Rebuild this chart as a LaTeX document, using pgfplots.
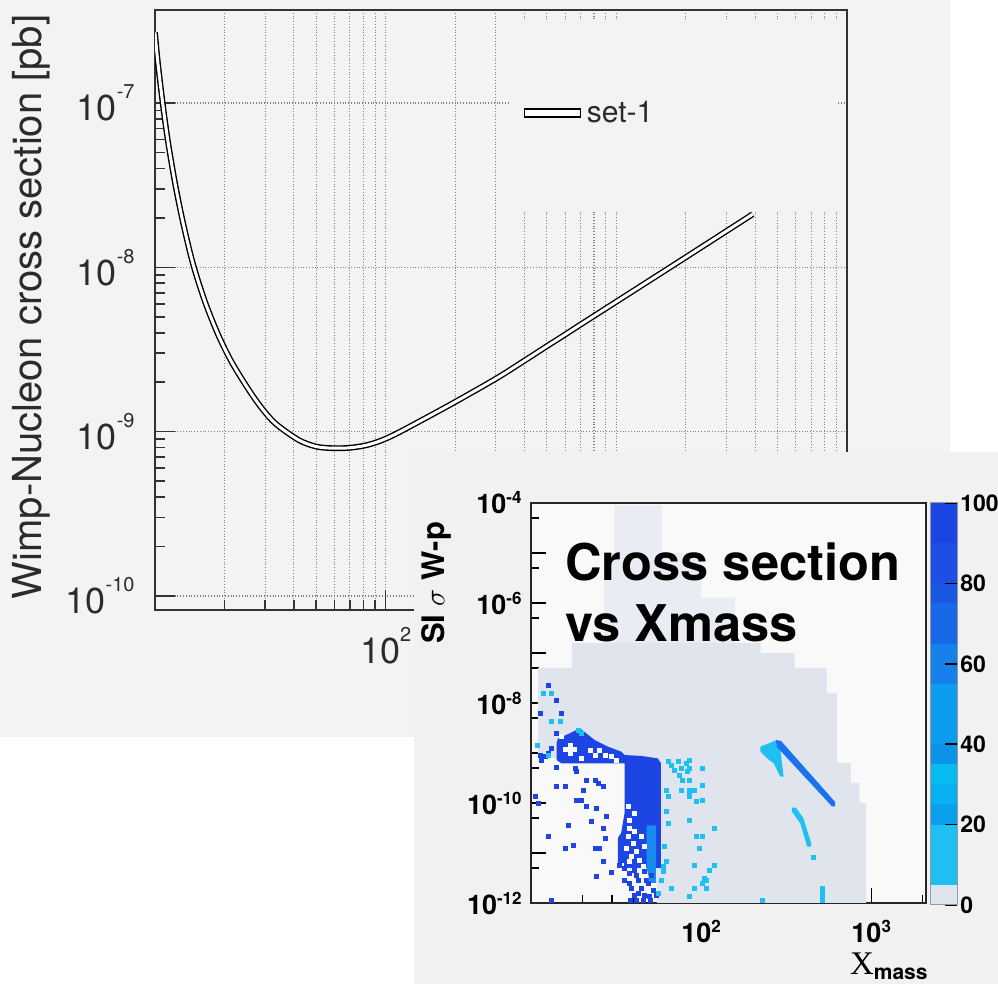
\documentclass[border=0pt]{standalone}
\usepackage{pgfplots}
\usepackage{pgfplotstable}
\pgfplotsset{compat=1.18}
\usepackage{fontspec}
\setmainfont{TeX Gyre Heros}
\newfontfamily\serifx{Liberation Serif}
\definecolor{bgA}{HTML}{F3F3F3}
\definecolor{bgB}{HTML}{F1F1F1}
\definecolor{inbg}{HTML}{F9F9F9}
\definecolor{cgrey}{HTML}{E0E4EC}
\definecolor{cgreyL}{HTML}{E9ECF2}
\definecolor{cdark}{HTML}{1C45E4}
\definecolor{cmid}{HTML}{1A8CF0}
\definecolor{cline}{HTML}{1A72EE}
\definecolor{ccyan}{HTML}{1EC0F2}
\definecolor{txtgrey}{HTML}{2B2B2B}
\newcommand\upl[1]{{\fontsize{18}{18}\selectfont 10\raisebox{11pt}{\fontsize{10}{10}\selectfont #1}}}
\newcommand\inl[1]{{\bfseries\fontsize{13.5}{13.5}\selectfont 10\raisebox{5pt}{\fontsize{8.5}{8.5}\selectfont #1}}}

\pgfplotstableread{
x y
10 2.69e-7
10.3 1.74e-7
10.84 9.55e-8
11.4 5.75e-8
12.22 3.24e-8
13.24 1.86e-8
14.62 1.047e-8
16.48 6.17e-9
18.79 3.89e-9
21.38 2.69e-9
25.1 1.86e-9
28.8 1.41e-9
33.3 1.12e-9
41.9 8.91e-10
49.7 8.13e-10
58.2 7.94e-10
69.2 7.97e-10
81.8 8.25e-10
95 8.8e-10
114 9.9e-10
188 1.445e-9
301 2.104e-9
402 2.72e-9
501 3.32e-9
600 3.90e-9
697 4.47e-9
811 5.12e-9
1000 6.18e-9
1436 8.55e-9
2014 1.159e-8
3006 1.663e-8
3899 2.104e-8
}\curve

\begin{document}
\begin{tikzpicture}
\useasboundingbox (0pt,0pt) rectangle (499pt,492pt);
\fill[white] (0pt,0pt) rectangle (499pt,492pt);
\fill[bgA] (0pt,123.5pt) rectangle (475pt,492pt);

% ---------------- upper plot ----------------
\begin{axis}[
  at={(77.5pt,187pt)}, anchor=south west, scale only axis, width=346pt, height=300pt,
  xmode=log, ymode=log, xmin=10, xmax=10000, ymin=8.22e-11, ymax=3.68e-7,
  axis line style={black!80, line width=1.2pt},
  tick align=inside, tick pos=left,
  major tick length=10pt, minor tick length=5pt,
  tick style={black!80, line width=0.8pt},
  xtick={10,100,1000,10000}, xticklabels={{},{\upl{2}},{},{}},
  ytick={1e-10,1e-9,1e-8,1e-7}, yticklabels={{\upl{-10}},{\upl{-9}},{\upl{-8}},{\upl{-7}}},
  xticklabel style={inner sep=0pt, yshift=-8.5pt, text=txtgrey},
  yticklabel style={inner sep=0pt, xshift=-10pt, text=txtgrey},
  xmajorgrids, xminorgrids, ymajorgrids,
  grid style={black!50, densely dotted, line width=0.55pt},
  ylabel={Wimp-Nucleon cross section [pb]},
  ylabel style={at={(rel axis cs:-0.179,0.505)}, anchor=center, font=\fontsize{20}{21}\selectfont, text=txtgrey},
  legend style={at={(0.532,0.828)}, anchor=west, draw=none, fill=none, inner sep=0pt,
    font=\fontsize{15}{15}\selectfont, text=txtgrey, nodes={inner sep=2.8pt}},
]
\fill[bgA] (rel axis cs:0.513,0.667) rectangle (rel axis cs:0.987,0.983);
\addplot[black, line width=2.9pt, smooth, forget plot] table {\curve};
\addplot[white, line width=1.5pt, smooth, forget plot] table {\curve};
\addlegendimage{legend image code/.code={\draw[black,line width=0.9pt,fill=white] (0pt,-2pt) rectangle (28pt,2pt);}}
\addlegendentry{set-1}
\end{axis}

% ---------------- lower panel ----------------
\fill[bgB] (207pt,0pt) rectangle (499pt,266pt);

\begin{axis}[
  at={(265.5pt,40.5pt)}, anchor=south west, scale only axis, width=197.5pt, height=200pt,
  xmin=1, xmax=3.322, ymin=-12, ymax=-4,
  axis background/.style={fill=inbg},
  axis line style={black!85, line width=0.8pt},
  tick align=inside, tick pos=left,
  major tick length=7.5pt, minor tick length=4pt,
  tick style={black, line width=0.7pt},
  xtick={1,2,3}, xticklabels={{},{\inl{2}},{\inl{3}}},
  minor xtick={1.301,1.477,1.602,1.699,1.778,1.845,1.903,1.954,2.301,2.477,2.602,2.699,2.778,2.845,2.903,2.954,3.301},
  ytick={-12,-11,...,-4},
  yticklabels={{\inl{-12}},{},{\inl{-10}},{},{\inl{-8}},{},{\inl{-6}},{},{\inl{-4}}},
  minor ytick={-11.301,-10.301,-9.301,-8.301,-7.301,-6.301,-5.301,-4.301},
  xticklabel style={inner sep=0pt, yshift=-8.5pt},
  yticklabel style={inner sep=0pt, xshift=-4.5pt},
  xlabel={{\serifx\fontsize{16.5}{16.5}\selectfont X}{\bfseries\fontsize{10.5}{10.5}\selectfont\raisebox{-2.5pt}{mass}}},
  xlabel style={at={(rel axis cs:1,0)}, anchor=base east, yshift=-36pt, xshift=1pt, inner sep=0pt},
  ylabel={\bfseries SI $\sigma$ W-p},
  ylabel style={at={(rel axis cs:-0.24,0.80)}, anchor=center, font=\fontsize{15.5}{16}\selectfont},
]
% grey (content 0-5) region
\addplot[fill=cgreyL, draw=none] coordinates {(1.49,-4.05) (1.77,-4.05) (1.77,-5.0) (2.0,-5.0) (2.0,-5.9) (2.2,-5.9) (2.2,-6.8) (1.43,-6.8) (1.43,-5.0) (1.49,-5.0)} -- cycle;
\addplot[fill=cgrey, draw=none] coordinates {(1.24,-6.8) (2.35,-6.8) (2.35,-7.0) (2.55,-7.0) (2.55,-7.3) (2.74,-7.3) (2.74,-7.8) (2.8,-7.8) (2.8,-9.2) (2.88,-9.2) (2.88,-9.6) (2.93,-9.6) (2.93,-10.0) (2.97,-10.0) (2.97,-12) (1.74,-12) (1.74,-9.1) (1.04,-9.1) (1.04,-7.3) (1.24,-7.3)} -- cycle;
% dense blue band and column
\addplot[fill=cdark, draw=none] coordinates {(1.150,-8.80) (1.160,-8.707) (1.228,-8.607) (1.286,-8.507) (1.325,-8.607) (1.374,-8.74) (1.452,-8.873) (1.530,-8.973) (1.550,-9.04) (1.65,-9.06) (1.745,-9.107) (1.764,-9.207) (1.764,-11.3) (1.51,-11.3) (1.51,-10.7) (1.53,-10.6) (1.55,-10.2) (1.55,-9.207) (1.179,-9.207) (1.150,-9.14)} -- cycle;
\addplot[fill=cmid, draw=none] coordinates {(1.68,-10.45) (1.735,-10.45) (1.735,-11.6) (1.70,-11.6) (1.68,-11.3)} -- cycle;
% stripes at high mass
\addplot[fill=ccyan, draw=none] coordinates {(2.349,-8.873) (2.446,-8.74) (2.466,-8.94) (2.485,-9.473) (2.466,-9.473) (2.427,-9.207) (2.388,-9.107) (2.349,-8.973)} -- cycle;
\addplot[fill=cline, draw=none] coordinates {(2.440,-8.74) (2.470,-8.760) (2.788,-9.980) (2.788,-10.07) (2.770,-10.07) (2.446,-8.880)} -- cycle;
\addplot[fill=ccyan, draw=none] coordinates {(2.534,-10.093) (2.557,-10.093) (2.602,-10.307) (2.647,-10.807) (2.647,-10.873) (2.624,-10.873) (2.583,-10.407) (2.534,-10.173)} -- cycle;
% holes (empty bins)
\addplot[only marks, mark=square*, mark size=1pt, color=inbg, mark options={line width=0.1pt}] coordinates {
(1.228,-8.84) (1.203,-8.93) (1.228,-8.93) (1.253,-8.93) (1.228,-9.01) (1.345,-8.94) (1.374,-9.04) (1.403,-8.94) (1.433,-9.04) (1.472,-9.06) (1.501,-9.14) (1.296,-9.11) (1.179,-8.67)
(1.579,-10.34) (1.579,-10.51) (1.608,-10.57) (1.569,-10.67) (1.598,-10.81) (1.559,-10.91) (1.618,-10.97) (1.589,-11.07) (1.637,-11.14) (1.579,-11.17) (1.667,-10.87) (1.647,-10.67) (1.608,-10.21) (1.569,-10.07) (1.657,-11.27) (1.53,-11.25)};
% dark blue bins (high content)
\addplot[only marks, mark=square*, mark size=1pt, color=cdark, mark options={line width=0.1pt}] coordinates {
(1.101,-7.64) (1.150,-7.94) (1.053,-8.21) (1.179,-8.21) (1.150,-8.61) (1.053,-9.04) (1.082,-9.07) (1.062,-9.14) (1.12,-8.9) (1.10,-9.0)
(1.150,-9.29) (1.150,-9.66) (1.199,-9.66) (1.257,-9.31) (1.267,-9.37) (1.325,-9.54) (1.374,-9.54) (1.394,-9.61) (1.423,-9.67) (1.306,-9.74)
(1.267,-9.94) (1.296,-9.94) (1.325,-10.07) (1.384,-10.11) (1.442,-10.27) (1.218,-10.44) (1.355,-10.37) (1.423,-10.51) (1.101,-10.67)
(1.199,-10.91) (1.247,-10.84) (1.374,-10.91) (1.403,-10.91) (1.433,-10.71) (1.423,-11.17) (1.384,-11.47) (1.472,-11.39) (1.520,-11.24)
(1.023,-9.87) (1.043,-10.01) (1.530,-10.81) (1.117,-11.95)
(1.550,-11.31) (1.579,-11.41) (1.608,-11.34) (1.667,-11.37) (1.706,-11.44) (1.550,-11.54) (1.628,-11.54) (1.686,-11.61) (1.589,-11.71)
(1.647,-11.71) (1.715,-11.74) (1.608,-11.84) (1.667,-11.84) (1.735,-11.84) (1.579,-11.61) (1.618,-11.44) (1.676,-11.54) (1.628,-11.81)
(1.696,-11.87) (1.58,-11.95) (1.62,-11.95) (1.66,-11.95) (1.70,-11.95)};
% cyan bins (low content)
\addplot[only marks, mark=square*, mark size=1pt, color=ccyan, mark options={line width=0.1pt}] coordinates {
(1.072,-7.81) (1.121,-7.81) (1.121,-8.37) (1.170,-8.37) (1.033,-8.84) (1.101,-9.04) (1.277,-8.54) (1.296,-8.61)
(1.803,-9.17) (1.823,-9.24) (1.862,-9.17) (1.881,-9.31) (1.910,-9.21) (1.842,-9.34) (1.871,-9.44) (1.920,-9.37) (1.891,-9.54) (1.930,-9.54)
(1.793,-9.74) (1.881,-9.74) (1.930,-9.74) (1.803,-9.87) (1.930,-9.87) (1.793,-10.17) (1.803,-10.41) (1.784,-10.87) (1.793,-11.17) (1.774,-11.37)
(1.930,-9.14) (1.930,-9.31) (2.008,-9.31) (2.008,-9.64) (1.959,-9.74) (1.930,-9.84) (2.008,-9.94) (1.969,-9.97) (1.930,-10.34) (2.076,-10.51)
(1.969,-10.67) (2.008,-10.67) (1.988,-10.91) (1.959,-11.24) (2.076,-11.24) (2.047,-11.34) (2.018,-11.51) (2.008,-11.61)
(1.823,-11.71) (1.959,-11.71) (2.027,-11.71) (1.930,-11.87) (2.027,-11.54) (2.359,-11.95)
(1.745,-11.81) (1.764,-11.54) (1.774,-11.27) (2.661,-11.073)
(2.710,-11.71) (2.710,-11.79) (2.710,-11.87) (2.710,-11.95)};
\end{axis}

% ---------------- colour scale ----------------
\begin{axis}[
  at={(465pt,39.5pt)}, anchor=south west, scale only axis, width=13.5pt, height=201pt,
  xmin=0, xmax=1, ymin=0, ymax=100, axis on top,
  axis line style={black!40, line width=0.5pt},
  xtick=\empty, ytick={0,20,40,60,80,100}, yticklabels={0,20,40,60,80,100},
  ytick pos=right, yticklabel pos=right, tick align=inside,
  major tick length=6pt, tick style={black, line width=0.8pt},
  yticklabel style={font=\bfseries\fontsize{11.5}{11.5}\selectfont, inner sep=0pt, xshift=1.5pt},
]
\addplot[fill=cgrey, draw=none] coordinates {(0,0) (1,0) (1,5) (0,5)} -- cycle;
\addplot[fill=ccyan, draw=none] coordinates {(0,5) (1,5) (1,20) (0,20)} -- cycle;
\addplot[fill={rgb,255:red,10;green,160;blue,235}, draw=none] coordinates {(0,20) (1,20) (1,25) (0,25)} -- cycle;
\addplot[fill={rgb,255:red,8;green,176;blue,240}, draw=none] coordinates {(0,25) (1,25) (1,30) (0,30)} -- cycle;
\addplot[fill={rgb,255:red,5;green,187;blue,240}, draw=none] coordinates {(0,30) (1,30) (1,35) (0,35)} -- cycle;
\addplot[fill={rgb,255:red,12;green,146;blue,232}, draw=none] coordinates {(0,35) (1,35) (1,40) (0,40)} -- cycle;
\addplot[fill={rgb,255:red,11;green,158;blue,240}, draw=none] coordinates {(0,40) (1,40) (1,55) (0,55)} -- cycle;
\addplot[fill={rgb,255:red,21;green,128;blue,234}, draw=none] coordinates {(0,55) (1,55) (1,65) (0,65)} -- cycle;
\addplot[fill={rgb,255:red,23;green,105;blue,232}, draw=none] coordinates {(0,65) (1,65) (1,75) (0,75)} -- cycle;
\addplot[fill={rgb,255:red,26;green,88;blue,228}, draw=none] coordinates {(0,75) (1,75) (1,80) (0,80)} -- cycle;
\addplot[fill={rgb,255:red,28;green,79;blue,228}, draw=none] coordinates {(0,80) (1,80) (1,90) (0,90)} -- cycle;
\addplot[fill={rgb,255:red,27;green,69;blue,226}, draw=none] coordinates {(0,90) (1,90) (1,100) (0,100)} -- cycle;
\end{axis}

\node[anchor=base west, inner sep=0pt, font=\bfseries\fontsize{25.3}{25.3}\selectfont] at (282.5pt,201.5pt) {Cross section};
\node[anchor=base west, inner sep=0pt, font=\bfseries\fontsize{25.3}{25.3}\selectfont] at (282.5pt,171pt) {vs Xmass};
\end{tikzpicture}
\end{document}
